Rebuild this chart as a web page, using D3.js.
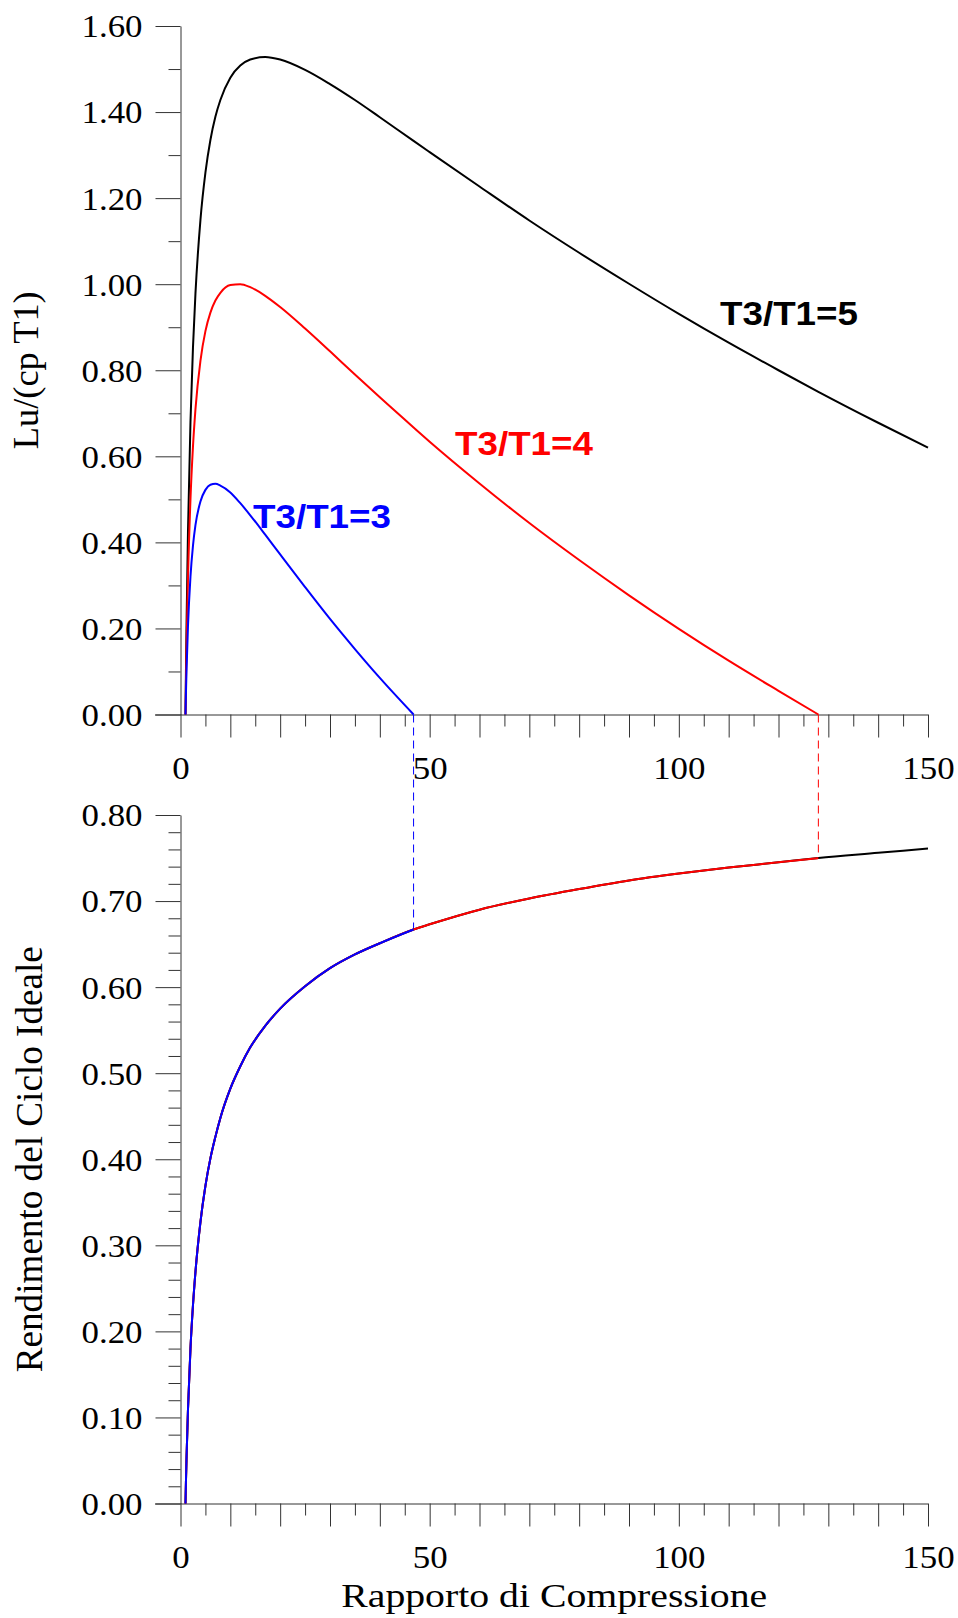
<!DOCTYPE html>
<html>
<head>
<meta charset="utf-8">
<script src="https://cdn.jsdelivr.net/npm/d3@7"></script>
<style>
  body { margin: 0; background: #fff; }
  svg { display: block; }
  .tick text { font-family: "Liberation Serif", "Times New Roman", serif; fill: #000; }
  .tick line, .domain { stroke: #333; }
</style>
</head>
<body>
<svg id="chart" width="958" height="1618"></svg>
<script>
// Data

const beta = [1, 1.1, 1.2, 1.5, 2, 2.5, 3, 4, 5, 6, 7, 8, 10, 12, 14, 17, 20, 25, 30, 35, 40,
  46.77, 50, 60, 70, 80, 90, 100, 110, 120, 128, 140, 150];

const lu5 = [0, 0.107, 0.2, 0.424, 0.679, 0.852, 0.978, 1.149, 1.259, 1.335, 1.389, 1.428, 1.48,
  1.508, 1.522, 1.528, 1.522, 1.498, 1.465, 1.428, 1.388, 1.333, 1.307, 1.227, 1.148, 1.073,
  1.001, 0.931, 0.864, 0.8, 0.75, 0.678, 0.62];

const lu4 = [0, 0.08, 0.15, 0.315, 0.5, 0.622, 0.709, 0.822, 0.891, 0.934, 0.962, 0.98, 0.998,
  1.0, 0.993, 0.973, 0.947, 0.897, 0.844, 0.79, 0.737, 0.667, 0.634, 0.537, 0.445, 0.359,
  0.277, 0.199, 0.125, 0.055, 0];

const lu3 = [0, 0.053, 0.099, 0.205, 0.32, 0.392, 0.44, 0.495, 0.522, 0.534, 0.536, 0.532,
  0.516, 0.491, 0.463, 0.418, 0.372, 0.296, 0.222, 0.152, 0.085, 0];

const eta = [0, 0.027, 0.051, 0.109, 0.18, 0.23, 0.269, 0.327, 0.369, 0.401, 0.426, 0.448,
  0.482, 0.508, 0.53, 0.555, 0.575, 0.601, 0.622, 0.638, 0.651, 0.667, 0.673, 0.69, 0.703,
  0.714, 0.724, 0.732, 0.739, 0.745, 0.75, 0.756, 0.761];

const seriesLabels = ['T3/T1=5', 'T3/T1=4', 'T3/T1=3'];
const seriesColors = ['#000000', '#ff0000', '#0000ff'];

const zeroBeta = [46.77, 128];
const zeroEta = [0.667, 0.75];

const xTickLabels = [0, 50, 100, 150];
const topTickLabels = [0, 0.2, 0.4, 0.6, 0.8, 1.0, 1.2, 1.4, 1.6];
const bottomTickLabels = [0, 0.1, 0.2, 0.3, 0.4, 0.5, 0.6, 0.7, 0.8];

// Layout
const svg = d3.select('#chart');
const xLeft = 180.5;
const xRight = 928;
const topPlot = { top: 26, bottom: 714.5 };
const bottomPlot = { top: 815, bottom: 1503.5 };

const xScale = d3.scaleLinear().domain([0, 150]).range([xLeft, xRight]);
const yTop = d3.scaleLinear().domain([0, 1.6]).range([topPlot.bottom, topPlot.top]);
const yBottom = d3.scaleLinear().domain([0, 0.8]).range([bottomPlot.bottom, bottomPlot.top]);

// stretch text horizontally like the source image
function widen(sel, k) {
  sel.each(function () {
    const len = this.getComputedTextLength();
    d3.select(this).attr('textLength', len * k).attr('lengthAdjust', 'spacingAndGlyphs');
  });
}

function drawXAxis(yPos) {
  const minor = d3.range(0, 151, 5).filter(v => v % 10 !== 0);
  const major = d3.range(0, 151, 10);

  svg.append('g')
    .attr('transform', `translate(0,${yPos})`)
    .call(d3.axisBottom(xScale).tickValues(minor).tickSize(12).tickSizeOuter(0).tickFormat(''))
    .call(g => g.select('.domain').remove());

  const g = svg.append('g')
    .attr('transform', `translate(0,${yPos})`)
    .call(d3.axisBottom(xScale).tickValues(major).tickSize(23).tickSizeOuter(0)
      .tickFormat(d => (xTickLabels.includes(d) ? d : '')));

  g.select('.domain').attr('d', `M155,0.5H${xRight}`);
  g.selectAll('.tick text')
    .attr('font-size', 32)
    .attr('y', 64)
    .attr('dy', 0);
  widen(g.selectAll('.tick text'), 1.09);
}

function drawYAxis(yScale, majorStep, minorStep, labels, maxVal) {
  const minor = d3.range(0, maxVal + 1e-9, minorStep)
    .filter(v => Math.abs(v / majorStep - Math.round(v / majorStep)) > 1e-6);

  svg.append('g')
    .attr('transform', `translate(${xLeft},0)`)
    .call(d3.axisLeft(yScale).tickValues(minor).tickSize(12).tickSizeOuter(0).tickFormat(''))
    .call(g => g.select('.domain').remove());

  const g = svg.append('g')
    .attr('transform', `translate(${xLeft},0)`)
    .call(d3.axisLeft(yScale).tickValues(labels).tickSize(25).tickSizeOuter(0)
      .tickFormat(d3.format('.2f')));

  g.selectAll('.tick text')
    .attr('font-size', 32)
    .attr('x', -38)
    .attr('dy', '0.34em');
  widen(g.selectAll('.tick text'), 1.09);
}

drawXAxis(topPlot.bottom);
drawXAxis(bottomPlot.bottom);
drawYAxis(yTop, 0.2, 0.1, topTickLabels, 1.6);
drawYAxis(yBottom, 0.1, 0.02, bottomTickLabels, 0.8);

// Dashed connectors
zeroBeta.forEach((b, i) => {
  svg.append('line')
    .attr('x1', xScale(b))
    .attr('x2', xScale(b))
    .attr('y1', yTop(0))
    .attr('y2', yBottom(zeroEta[i]))
    .attr('stroke', seriesColors[2 - i])
    .attr('stroke-width', 1)
    .attr('stroke-dasharray', '8,5');
});

// Curves
const topLine = d3.line()
  .x(d => xScale(d[0]))
  .y(d => yTop(d[1]))
  .curve(d3.curveMonotoneX);

const bottomLine = d3.line()
  .x(d => xScale(d[0]))
  .y(d => yBottom(d[1]))
  .curve(d3.curveMonotoneX);

const luSeries = [lu5, lu4, lu3];
luSeries.forEach((vals, i) => {
  svg.append('path')
    .datum(vals.map((v, j) => [beta[j], v]))
    .attr('fill', 'none')
    .attr('stroke', seriesColors[i])
    .attr('stroke-width', 2)
    .attr('d', topLine);
});

// efficiency: black full range, red up to 128, blue up to 46.77
const etaEnds = [beta.length, lu4.length, lu3.length];
etaEnds.forEach((n, i) => {
  svg.append('path')
    .datum(eta.slice(0, n).map((v, j) => [beta[j], v]))
    .attr('fill', 'none')
    .attr('stroke', seriesColors[i])
    .attr('stroke-width', 2)
    .attr('d', bottomLine);
});

// Curve labels
const labelPos = [[720, 325], [455, 455], [253, 528]];
seriesLabels.forEach((t, i) => {
  svg.append('text')
    .attr('x', labelPos[i][0])
    .attr('y', labelPos[i][1])
    .attr('font-family', '"Liberation Sans", Arial, sans-serif')
    .attr('font-weight', 'bold')
    .attr('font-size', 33)
    .attr('fill', seriesColors[i])
    .attr('textLength', 138)
    .attr('lengthAdjust', 'spacingAndGlyphs')
    .text(t);
});

// Axis titles
svg.append('text')
  .attr('transform', `translate(${xScale(75)},1607)`)
  .attr('text-anchor', 'middle')
  .attr('font-family', '"Liberation Serif", "Times New Roman", serif')
  .attr('font-size', 33)
  .attr('textLength', 426)
  .attr('lengthAdjust', 'spacingAndGlyphs')
  .text('Rapporto di Compressione');

svg.append('text')
  .attr('transform', `translate(38,${yTop(0.8)}) rotate(-90)`)
  .attr('text-anchor', 'middle')
  .attr('font-family', '"Liberation Serif", "Times New Roman", serif')
  .attr('font-size', 35)
  .attr('textLength', 158)
  .attr('lengthAdjust', 'spacingAndGlyphs')
  .text('Lu/(cp T1)');

svg.append('text')
  .attr('transform', `translate(42,${yBottom(0.4)}) rotate(-90)`)
  .attr('text-anchor', 'middle')
  .attr('font-family', '"Liberation Serif", "Times New Roman", serif')
  .attr('font-size', 37)
  .attr('textLength', 426)
  .attr('lengthAdjust', 'spacingAndGlyphs')
  .text('Rendimento del Ciclo Ideale');
</script>
</body>
</html>
